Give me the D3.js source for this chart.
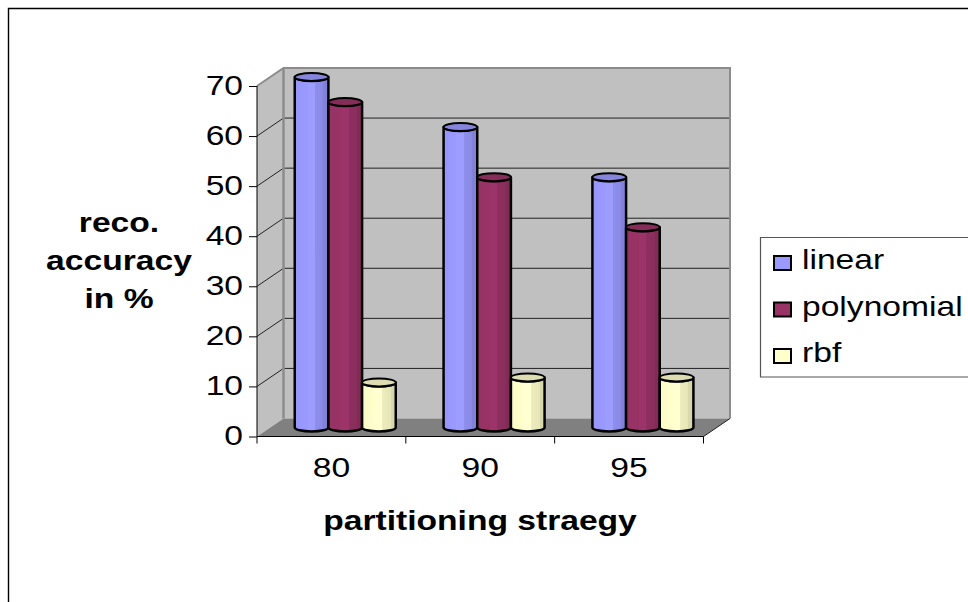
<!DOCTYPE html>
<html>
<head>
<meta charset="utf-8">
<script src="https://cdn.jsdelivr.net/npm/d3@7"></script>
<style>
  body { margin: 0; background: #fff; }
  text { font-family: "Liberation Sans", Arial, sans-serif; fill: #000; }
</style>
</head>
<body>
<div id="chart"></div>
<script>
const categories = ["80", "90", "95"];
const seriesNames = ["linear", "polynomial", "rbf"];
const linear = [70, 60, 50];
const polynomial = [65, 50, 40];
const rbf = [9, 10, 10];
const yTicks = [0, 10, 20, 30, 40, 50, 60, 70];
const seriesColors = ["#9999ff", "#993366", "#ffffcc"];
const yTitle = ["reco.", "accuracy", "in %"];
const xTitle = "partitioning straegy";

const width = 968, height = 602;
const depthX = 26.5, depthY = -18; // offset of the back wall from the front axes
const fontSize = 28;
const textStretch = 1.2; // the original text is wider than the font's own glyphs

const x = d3.scaleBand().domain(categories).range([257, 703.5]);
const y = d3.scaleLinear().domain([0, 70]).range([436.5, 86]);
const xBar = d3.scaleBand().domain(seriesNames).range([24.5, 125.5]);

const svg = d3.select("#chart").append("svg")
    .attr("width", width)
    .attr("height", height)
    .style("display", "block");

// widen a text selection horizontally
const stretch = sel => sel.each(function () {
    d3.select(this)
        .attr("textLength", this.getComputedTextLength() * textStretch)
        .attr("lengthAdjust", "spacingAndGlyphs");
});

// outer frame, runs off the right and bottom of the picture
svg.append("path")
    .attr("d", `M8.5,${height} V8.5 H${width}`)
    .attr("fill", "none")
    .attr("stroke", "#000")
    .attr("stroke-width", 1.4);

// gradients for the cylinder bodies
const defs = svg.append("defs");
seriesColors.forEach((c, i) => {
    const base = d3.color(c);
    const stops = [
        [0, base.darker(0.05)], [0.38, base],
        [0.38, base.brighter(0.08)], [0.6, base.brighter(0.08)],
        [0.6, base.darker(0.2)], [0.85, base.darker(0.3)],
        [0.85, base.darker(0.45)], [1, base.darker(0.5)]
    ];
    defs.append("linearGradient")
        .attr("id", "bar" + i)
        .selectAll("stop")
        .data(stops)
        .join("stop")
        .attr("offset", d => d[0])
        .attr("stop-color", d => d[1].formatHex());
});

// walls and floor
const left = x.range()[0], right = x.range()[1];
const yBottom = y(0), yTop = y(70);
const line = d3.line();

svg.append("path")
    .attr("d", line([[left, yTop], [left + depthX, yTop + depthY], [left + depthX, yBottom + depthY], [left, yBottom]]) + "Z")
    .attr("fill", "#c0c0c0");
svg.append("rect")
    .attr("x", left + depthX)
    .attr("y", yTop + depthY)
    .attr("width", right - left)
    .attr("height", yBottom - yTop)
    .attr("fill", "#c0c0c0");

// gridlines on the side wall and back wall
svg.append("g")
    .selectAll("path")
    .data(yTicks.filter(d => d > 0 && d < 70))
    .join("path")
    .attr("d", d => line([[left, y(d)], [left + depthX, y(d) + depthY], [right + depthX, y(d) + depthY]]))
    .attr("fill", "none")
    .attr("stroke", "#222");

// gray wall edges
svg.append("path")
    .attr("d", line([[left, yTop], [left + depthX, yTop + depthY], [right + depthX, yTop + depthY], [right + depthX, yBottom + depthY]]))
    .attr("fill", "none")
    .attr("stroke", "#8c8c8c")
    .attr("stroke-width", 2);
svg.append("path")
    .attr("d", line([[left + depthX, yTop + depthY], [left + depthX, yBottom + depthY]]))
    .attr("stroke", "#8c8c8c")
    .attr("stroke-width", 2.5);

svg.append("path")
    .attr("d", line([[left, yBottom], [left + depthX, yBottom + depthY], [right + depthX, yBottom + depthY], [right, yBottom]]) + "Z")
    .attr("fill", "#808080");
svg.append("path")
    .attr("d", line([[right, yBottom], [right + depthX, yBottom + depthY]]))
    .attr("stroke", "#222");

// axes
const yAxis = d3.axisLeft(y).tickValues(yTicks).tickSize(8).tickPadding(6);
const gy = svg.append("g")
    .attr("transform", `translate(${left},0)`)
    .call(yAxis);
gy.selectAll("text")
    .attr("font-size", fontSize)
    .attr("fill", "#000")
    .attr("dy", "0.29em")
    .style("font-family", null)
    .call(stretch);
gy.selectAll("path,line").attr("stroke", "#000");
gy.select(".domain").attr("d", `M0,${yTop}V${yBottom}`);

const gx = svg.append("g")
    .attr("transform", `translate(0,${yBottom})`);
gx.append("path")
    .attr("d", `M${left},0H${right}`)
    .attr("stroke", "#000");
// category ticks sit between the groups, not under them
gx.selectAll("line")
    .data(d3.range(categories.length + 1))
    .join("line")
    .attr("x1", i => left + i * x.step())
    .attr("x2", i => left + i * x.step())
    .attr("y1", 0)
    .attr("y2", 7)
    .attr("stroke", "#000");
svg.append("g")
    .selectAll("text")
    .data(categories)
    .join("text")
    .attr("x", d => x(d) + x.bandwidth() / 2)
    .attr("y", 477)
    .attr("text-anchor", "middle")
    .attr("font-size", fontSize)
    .text(d => d)
    .call(stretch);

// bars, drawn left to right per group
const rows = categories.flatMap((c, i) => [linear[i], polynomial[i], rbf[i]].map((v, s) => ({ c, v, s })));
const barMidY = depthY / 2;
const barMidX = depthX / 2;
const ry = 4;

const bars = svg.append("g")
    .selectAll("g")
    .data(rows)
    .join("g")
    .attr("transform", d => `translate(${x(d.c) + xBar(seriesNames[d.s]) + barMidX},${barMidY})`);

bars.append("path")
    .attr("d", d => {
        const w = xBar.bandwidth(), rx = w / 2;
        return `M0,${y(d.v)}V${y(0)}A${rx},${ry} 0 0 0 ${w},${y(0)}V${y(d.v)}A${rx},${ry} 0 0 1 0,${y(d.v)}Z`;
    })
    .attr("fill", d => `url(#bar${d.s})`)
    .attr("stroke", "#000")
    .attr("stroke-width", 2.5)
    .attr("stroke-linejoin", "round");

bars.append("ellipse")
    .attr("cx", xBar.bandwidth() / 2)
    .attr("cy", d => y(d.v))
    .attr("rx", xBar.bandwidth() / 2)
    .attr("ry", ry)
    .attr("fill", d => d3.color(seriesColors[d.s]).darker(0.4).formatHex())
    .attr("stroke", "#000")
    .attr("stroke-width", 2);

// axis titles
svg.append("g")
    .selectAll("text")
    .data(yTitle)
    .join("text")
    .attr("x", 119)
    .attr("y", (d, i) => 232 + i * 38)
    .attr("text-anchor", "middle")
    .attr("font-size", fontSize)
    .attr("font-weight", "bold")
    .text(d => d)
    .call(stretch);

svg.append("text")
    .attr("x", 480)
    .attr("y", 530)
    .attr("text-anchor", "middle")
    .attr("font-size", fontSize)
    .attr("font-weight", "bold")
    .text(xTitle)
    .call(stretch);

// legend, its box runs off the right edge
svg.append("path")
    .attr("d", `M${width},237.5 H760.5 V377 H${width}`)
    .attr("fill", "none")
    .attr("stroke", "#555")
    .attr("stroke-width", 1.2);

const legendY = d3.scalePoint().domain(seriesNames).range([263, 356]);
const legend = svg.append("g")
    .selectAll("g")
    .data(seriesNames)
    .join("g")
    .attr("transform", d => `translate(774,${legendY(d)})`);

legend.append("rect")
    .attr("y", -7)
    .attr("width", 17)
    .attr("height", 14)
    .attr("fill", (d, i) => seriesColors[i])
    .attr("stroke", "#000")
    .attr("stroke-width", 2);

legend.append("text")
    .attr("x", 28)
    .attr("y", 6)
    .attr("font-size", fontSize)
    .text(d => d)
    .call(stretch);
</script>
</body>
</html>
